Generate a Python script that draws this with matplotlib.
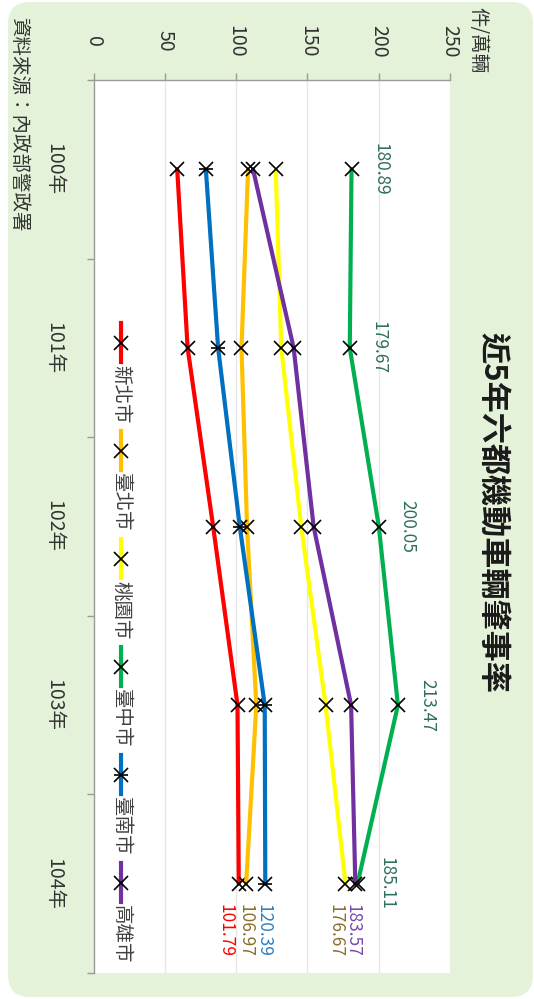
import matplotlib
matplotlib.use("Agg")
import matplotlib.pyplot as plt
from matplotlib.lines import Line2D
from matplotlib.patches import FancyBboxPatch

plt.rcParams["font.family"] = ["Noto Sans CJK TC", "DejaVu Sans"]

# data (件/萬輛)
years = ["100年", "101年", "102年", "103年", "104年"]
cities = ["新北市", "臺北市", "桃園市", "臺中市", "臺南市", "高雄市"]
xinbei = [58.6, 65.9, 83.8, 100.9, 101.79]
taipei = [108.3, 103.7, 107.6, 114.1, 106.97]
taoyuan = [127.7, 131.6, 145.6, 162.7, 176.67]
taichung = [180.89, 179.67, 200.05, 213.47, 185.11]
tainan = [78.7, 87.3, 102.5, 120.0, 120.39]
kaohsiung = [111.8, 140.3, 154.3, 180.6, 183.57]
value_ticks = [0, 50, 100, 150, 200, 250]

series = [xinbei, taipei, taoyuan, taichung, tainan, kaohsiung]
colors = ["#FF0000", "#FFC000", "#FFFF00", "#00B050", "#0070C0", "#7030A0"]
label_colors = ["#FF0000", "#8C6D2C", "#8C6D2C", "#2E6F62", "#2F7FC1", "#7A48AD"]
# horizontal nudge (px) of the last-year labels so they do not collide
end_nudge = [-13, -1, -10, 0, -2, -3]

W, H = 534, 999
fig = plt.figure(figsize=(W / 100, H / 100), dpi=100)
fig.patch.set_facecolor("white")


def fx(px):
    return px / W


def fy(py):
    return 1 - py / H


bg = FancyBboxPatch((0.08, 0.02), 5.25, 9.95,
                    boxstyle="round,pad=0,rounding_size=0.22",
                    transform=fig.dpi_scale_trans,
                    facecolor="#E3F2D9", edgecolor="none", zorder=-10)
fig.patches.append(bg)

ax = fig.add_axes([fx(93.7), fy(973), fx(450) - fx(93.7), fy(80) - fy(973)])
ax.set_zorder(1)
ax.set_facecolor("white")
ax.set_xlim(0, 250)
ax.set_ylim(4.5, -0.5)

for sp in ["right", "bottom"]:
    ax.spines[sp].set_visible(False)
for sp in ["top", "left"]:
    ax.spines[sp].set_color("#9A9A9A")
    ax.spines[sp].set_linewidth(1.0)

# value axis on top, rotated labels
ax.xaxis.tick_top()
ax.set_xticks(value_ticks)
ax.set_xticklabels([str(v) for v in value_ticks], rotation=270,
                   fontsize=14, color="#333333", va="center", ha="center")
ax.tick_params(axis="x", length=5, width=1, color="#9A9A9A", pad=23)
ax.grid(axis="x", color="#E6E6E6", linewidth=1)
gl = ax.xaxis.get_gridlines()
gl[0].set_visible(False)
gl[-1].set_visible(False)

# category axis on left
cat_pos = list(range(len(years)))
ax.set_yticks(cat_pos)
ax.set_yticklabels(years, rotation=270, fontsize=14, color="#333333",
                   va="center", ha="center")
ax.set_yticks([p - 0.5 for p in range(len(years) + 1)], minor=True)
ax.tick_params(axis="y", which="major", length=0, pad=29)
ax.tick_params(axis="y", which="minor", length=5, width=1, color="#9A9A9A")

for i, (vals, c) in enumerate(zip(series, colors)):
    ax.plot(vals, cat_pos, color=c, lw=3, marker="x", markersize=9.5,
            markeredgecolor="black", markeredgewidth=1.2, zorder=3 + i,
            solid_capstyle="round")
    if i == 4:
        ax.plot(vals, cat_pos, ls="none", marker="_", markersize=9.5,
                markeredgecolor="black", markeredgewidth=1.2, zorder=3 + i)

# labels of 臺中市 for every year
for j, v in enumerate(taichung):
    ax.annotate(f"{v:.2f}", (v, j), xytext=(29 * 0.72, 0),
                textcoords="offset points", rotation=270, ha="center",
                va="center", fontsize=12.5, color=label_colors[3])

# labels of the last year for the other cities
for i, vals in enumerate(series):
    if i == 3:
        continue
    ax.annotate(f"{vals[-1]:.2f}", (vals[-1], len(years) - 1),
                xytext=(end_nudge[i] * 0.72, -20 * 0.72),
                textcoords="offset points", rotation=270, ha="center",
                va="top", fontsize=12.5, color=label_colors[i])

# legend drawn by hand, rotated
for i, (name, c) in enumerate(zip(cities, colors)):
    y0 = 323 + 108 * i
    fig.add_artist(Line2D([fx(121), fx(121)], [fy(y0), fy(y0 + 39)],
                          color=c, lw=3, transform=fig.transFigure, zorder=5))
    fig.add_artist(Line2D([fx(121)], [fy(y0 + 19.5)], ls="none", marker="x",
                          markersize=9.5, markeredgecolor="black",
                          markeredgewidth=1.2, transform=fig.transFigure,
                          zorder=6))
    if i == 4:
        fig.add_artist(Line2D([fx(121)], [fy(y0 + 19.5)], ls="none",
                              marker="_", markersize=9.5,
                              markeredgecolor="black", markeredgewidth=1.2,
                              transform=fig.transFigure, zorder=6))
    fig.text(fx(121), fy(y0 + 42), name, rotation=270, ha="center",
             va="top", fontsize=14, color="#404040", zorder=6)

fig.text(fx(493), fy(512), "近5年六都機動車輛肇事率", rotation=270,
         ha="center", va="center", fontsize=22.4, fontweight="bold",
         color="#1A1A1A")
fig.text(fx(478), fy(7), "件/萬輛", rotation=270, ha="center", va="top",
         fontsize=14, color="#333333")
fig.text(fx(19), fy(17), "資料來源：內政部警政署", rotation=270,
         ha="center", va="top", fontsize=14, color="#333333")

fig.savefig("out.png", dpi=100, facecolor=fig.get_facecolor())
